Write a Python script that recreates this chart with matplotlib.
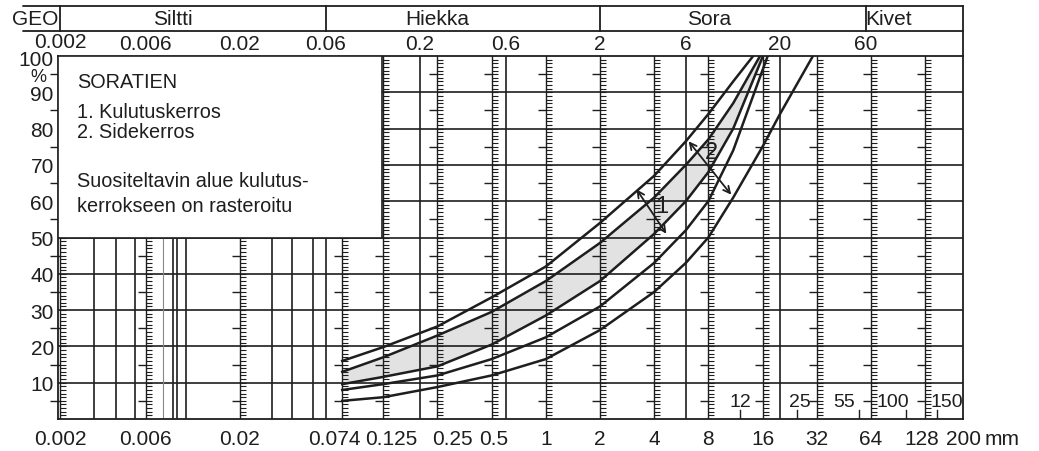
import matplotlib.pyplot as plt
import numpy as np
from matplotlib.path import Path
from matplotlib.patches import Rectangle
from matplotlib.transforms import ScaledTranslation

plt.rcParams['font.family'] = ['Liberation Sans', 'DejaVu Sans']

# sieve rulers (mm) and bottom axis labels
ruler_sizes = [0.002, 0.006, 0.02, 0.074, 0.125, 0.25, 0.5, 1, 2, 4, 8, 16, 32, 64, 128]
bottom_ticks = [0.002, 0.006, 0.02, 0.074, 0.125, 0.25, 0.5, 1, 2, 4, 8, 16, 32, 64, 128, 200]
bottom_labels = ['0.002', '0.006', '0.02', '0.074', '0.125', '0.25', '0.5', '1', '2', '4',
                 '8', '16', '32', '64', '128', '200']
# plain vertical lines of the grid
plain_lines = [0.0031, 0.0041, 0.0052, 0.0085, 0.0089, 0.01, 0.03, 0.039, 0.051, 0.06,
               0.2, 0.6, 6, 20]
thin_lines = [0.0075]
# GEO scale on top
geo_ticks = [0.002, 0.006, 0.02, 0.06, 0.2, 0.6, 2, 6, 20, 60]
geo_labels = ['0.002', '0.006', '0.02', '0.06', '0.2', '0.6', '2', '6', '20', '60']
fraction_limits = [0.002, 0.06, 2, 60]
fraction_names = ['Siltti', 'Hiekka', 'Sora', 'Kivet']
fraction_pos = [0.0085, 0.25, 8.1, 80]
# stone sizes marked inside the chart
stone_sizes = [12, 25, 55, 100, 150]
stone_labels = ['12', '25', '55', '100', '150']

# grading limit curves (passing %, sieve mm)
curve_a_d = [0.074, 0.125, 0.25, 0.5, 1, 2, 4, 6, 8, 11, 14.2]
curve_a_p = [16, 19.8, 25.5, 33.5, 42, 54, 67, 76.5, 84, 93, 100]
curve_b_d = [0.074, 0.125, 0.25, 0.5, 1, 2, 4, 6, 8, 11, 15.5]
curve_b_p = [13, 17, 23, 29.5, 38, 48.5, 61, 70, 77, 87, 100]
curve_c_d = [0.074, 0.125, 0.25, 0.5, 1, 2, 4, 6, 8, 11, 16.1]
curve_c_p = [9.6, 11.6, 14.5, 20.5, 28.5, 38, 51, 60, 68, 80, 100]
curve_d_d = [0.074, 0.125, 0.25, 0.5, 1, 2, 4, 6, 8, 11, 17.1]
curve_d_p = [8, 9.6, 12, 16.5, 22.5, 31, 43, 52, 60, 74, 100]
curve_e_d = [0.074, 0.125, 0.25, 0.5, 1, 2, 4, 6, 8, 11, 16, 20, 30.5]
curve_e_p = [5, 6, 8.8, 12, 16.5, 24.5, 35, 43, 50, 61, 75, 84, 100]

ink = '#1e1e1e'
fs = 15

fig = plt.figure(figsize=(10.39, 4.52), dpi=100)
W, H = 1039, 452
ax = fig.add_axes([58 / W, 32 / H, 905 / W, 363 / H])
ax.set_xscale('log')
ax.set_xlim(0.00195, 208)
ax.set_ylim(0, 100)

# grid
for y in range(10, 100, 10):
    ax.axhline(y, color=ink, lw=1.2, zorder=2)
for x in plain_lines:
    ax.axvline(x, color=ink, lw=1.2, zorder=2)
for x in thin_lines:
    ax.axvline(x, color='#888888', lw=0.8, zorder=2)

# rulers
right_tick = Path([(0, 0), (1, 0)], [Path.MOVETO, Path.LINETO])
left_tick = Path([(0, 0), (-1, 0)], [Path.MOVETO, Path.LINETO])
pct = np.arange(1, 100)
pct5 = np.arange(5, 100, 10)
for s in ruler_sizes:
    ax.axvline(s, color=ink, lw=1.0, zorder=2)
    ax.plot(np.full(pct.size, s), pct, ls='none', marker=right_tick, ms=8,
            mew=0.8, color=ink, zorder=2)
    ax.plot(np.full(pct5.size, s), pct5, ls='none', marker=left_tick, ms=12,
            mew=1.0, color=ink, zorder=2)

# recommended area (between curves b and c)
ax.fill(np.concatenate([curve_b_d, curve_c_d[::-1]]),
        np.concatenate([curve_b_p, curve_c_p[::-1]]),
        facecolor='#e2e2e2', edgecolor='none', zorder=1)

for d, p in [(curve_a_d, curve_a_p), (curve_b_d, curve_b_p), (curve_c_d, curve_c_p),
             (curve_d_d, curve_d_p), (curve_e_d, curve_e_p)]:
    ax.plot(d, p, color=ink, lw=1.8, zorder=4, solid_joinstyle='round')

# arrows and band numbers
ax.annotate('', xy=(3.13, 63.9), xytext=(4.77, 50.4),
            arrowprops=dict(arrowstyle='<->', color=ink, lw=1.3, mutation_scale=12), zorder=5)
ax.annotate('', xy=(6.08, 77.1), xytext=(10.96, 61.2),
            arrowprops=dict(arrowstyle='<->', color=ink, lw=1.3, mutation_scale=12), zorder=5)
ax.text(4.42, 58.7, '1', fontsize=17, ha='center', va='center', color=ink, zorder=6)
ax.text(8.37, 73.5, '2', fontsize=17, ha='center', va='center', color=ink, zorder=6)

# stone size marks
for s in stone_sizes:
    ax.plot([s, s], [0, 2.5], color=ink, lw=1.0, zorder=3)
offsets = [0, 2, -11, -9, 7]
for s, lab, dx in zip(stone_sizes, stone_labels, offsets):
    ax.annotate(lab, xy=(s, 4.8), xytext=(dx, 0), textcoords='offset points',
                fontsize=14, ha='center', va='center', color=ink, zorder=6)

# legend box
ax.add_patch(Rectangle((0.00195, 50), 0.123 - 0.00195, 50, facecolor='white',
                       edgecolor=ink, lw=1.2, zorder=3))
legend_lines = [('SORATIEN', 93.1), ('1. Kulutuskerros', 84.8), ('2. Sidekerros', 79.1),
                ('Suositeltavin alue kulutus-', 65.6), ('kerrokseen on rasteroitu', 58.7)]
for txt, y in legend_lines:
    ax.text(0.021, y, txt, transform=ax.get_yaxis_transform(), fontsize=14.3,
            ha='left', va='center', color=ink, zorder=6)

# axes ticks and labels
ax.set_xticks(bottom_ticks, bottom_labels)
ax.xaxis.set_minor_locator(plt.NullLocator())
ax.tick_params(axis='x', length=0, pad=7, labelsize=fs, colors=ink)
label_dx = [0, 0, 0, -8, 8, 15, 2, 0, 0, 0, 0, 0, 0, 0, -3, 4]
for lab, dx in zip(ax.get_xticklabels(), label_dx):
    lab.set_transform(lab.get_transform() + ScaledTranslation(dx / 100, 0, fig.dpi_scale_trans))
ax.annotate('mm', xy=(200, 0), xytext=(18, -7.3), textcoords='offset points',
            xycoords='data', fontsize=fs, ha='left', va='top', color=ink)
ax.set_yticks(range(10, 101, 10), [str(v) for v in range(10, 101, 10)])
ax.set_yticks(range(5, 100, 10), minor=True)
ax.tick_params(axis='y', which='major', length=0, pad=3, labelsize=fs, colors=ink)
ax.tick_params(axis='y', which='minor', length=6, width=1.0, color=ink)
ylabs = ax.get_yticklabels()
ylabs[-1].set_transform(ylabs[-1].get_transform() + ScaledTranslation(0, -0.02, fig.dpi_scale_trans))
ax.annotate('%', xy=(0, 94.4), xycoords=('axes fraction', 'data'), xytext=(-14, 0),
            textcoords='offset points', fontsize=13, ha='center', va='center', color=ink)
for sp in ax.spines.values():
    sp.set_color(ink)
    sp.set_linewidth(1.3)

# GEO header
hx = fig.add_axes([58 / W, 395 / H, 905 / W, 50 / H])
hx.set_xscale('log')
hx.set_xlim(0.00195, 208)
hx.set_ylim(0, 2)
hx.axis('off')
for y in (1, 2):
    hx.annotate('', xy=(1, y), xytext=(-35 / 905, y), xycoords=('axes fraction', 'data'),
                arrowprops=dict(arrowstyle='-', color=ink, lw=1.3, shrinkA=0, shrinkB=0))
hx.plot([208, 208], [0, 2], color=ink, lw=1.3, clip_on=False)
for x in fraction_limits:
    hx.plot([x, x], [1, 2], color=ink, lw=1.3, clip_on=False)
for name, x in zip(fraction_names, fraction_pos):
    hx.text(x, 1.5, name, fontsize=fs, ha='center', va='center', color=ink)
for x, lab in zip(geo_ticks, geo_labels):
    yl = 0.6 if x == geo_ticks[0] else 0.5
    hx.text(x, yl, lab, fontsize=fs, ha='center', va='center', color=ink)
hx.text(-23 / 905, 1.5, 'GEO', transform=hx.get_yaxis_transform(), fontsize=fs,
        ha='center', va='center', color=ink)

fig.savefig('out.png', dpi=100)
